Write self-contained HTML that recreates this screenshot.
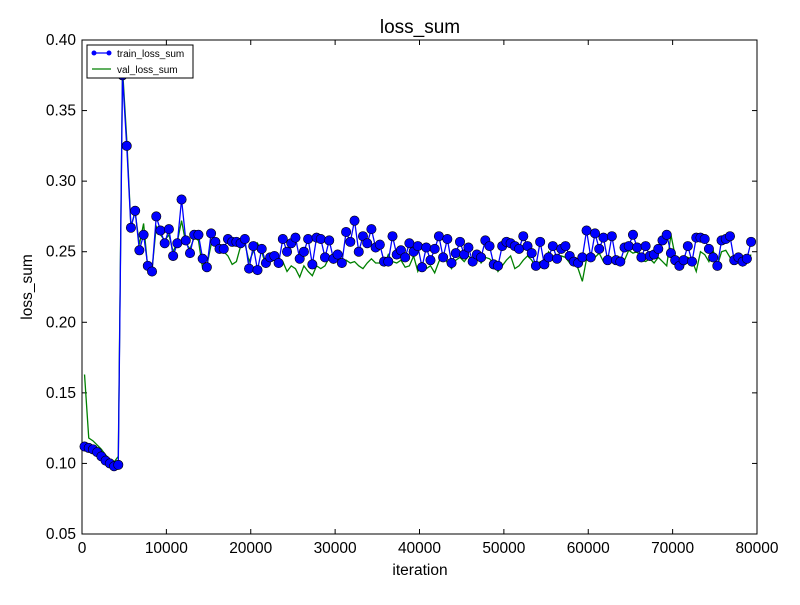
<!DOCTYPE html>
<html><head><meta charset="utf-8"><style>
body{margin:0;background:#fff;}
svg text{font-family:"Liberation Sans",sans-serif;}
</style></head><body>
<svg id="chart" width="800" height="600" xmlns="http://www.w3.org/2000/svg">
<rect width="800" height="600" fill="#fff"/>
<g id="plot"></g>
</svg>
<script>
const xTicks=[0,10000,20000,30000,40000,50000,60000,70000,80000];
const xTickLabels=["0","10000","20000","30000","40000","50000","60000","70000","80000"];
const yTicks=[0.05,0.10,0.15,0.20,0.25,0.30,0.35,0.40];
const yTickLabels=["0.05","0.10","0.15","0.20","0.25","0.30","0.35","0.40"];
const iterStep=500;
const iterStart=300;
const trainLoss=[0.112,0.111,0.110,0.108,0.105,0.102,0.100,0.098,0.099,0.375,
0.325,0.267,0.279,0.251,0.262,0.240,0.236,0.275,0.265,0.256,
0.266,0.247,0.256,0.287,0.258,0.249,0.262,0.262,0.245,0.239,
0.263,0.257,0.252,0.252,0.259,0.257,0.257,0.256,0.259,0.238,
0.254,0.237,0.252,0.242,0.246,0.247,0.242,0.259,0.250,0.256,
0.260,0.245,0.250,0.259,0.241,0.260,0.259,0.246,0.258,0.245,
0.248,0.242,0.264,0.257,0.272,0.250,0.261,0.256,0.266,0.253,
0.255,0.243,0.243,0.261,0.248,0.251,0.246,0.256,0.250,0.254,
0.239,0.253,0.244,0.252,0.261,0.246,0.259,0.242,0.249,0.257,
0.248,0.253,0.243,0.248,0.246,0.258,0.254,0.241,0.240,0.254,
0.257,0.256,0.254,0.252,0.261,0.254,0.249,0.240,0.257,0.241,
0.246,0.254,0.245,0.252,0.254,0.247,0.243,0.242,0.246,0.265,
0.246,0.263,0.252,0.260,0.244,0.261,0.244,0.243,0.253,0.254,
0.262,0.253,0.246,0.254,0.247,0.248,0.252,0.258,0.262,0.249,
0.244,0.240,0.244,0.254,0.243,0.260,0.260,0.259,0.252,0.246,
0.240,0.258,0.259,0.261,0.244,0.246,0.243,0.245,0.257];
const valLoss=[0.163,0.118,0.116,0.113,0.110,0.106,0.103,0.101,0.105,0.380,
0.330,0.268,0.278,0.255,0.270,0.238,0.237,0.268,0.262,0.258,
0.262,0.250,0.257,0.272,0.256,0.252,0.260,0.258,0.238,0.240,
0.255,0.256,0.251,0.250,0.247,0.241,0.243,0.254,0.256,0.243,
0.250,0.256,0.250,0.240,0.243,0.244,0.241,0.243,0.236,0.240,
0.238,0.232,0.240,0.236,0.233,0.240,0.238,0.240,0.246,0.242,
0.245,0.240,0.244,0.242,0.243,0.240,0.238,0.242,0.245,0.242,
0.242,0.240,0.248,0.243,0.242,0.244,0.239,0.240,0.247,0.236,
0.242,0.238,0.240,0.235,0.243,0.248,0.242,0.238,0.244,0.246,
0.243,0.247,0.244,0.249,0.242,0.246,0.245,0.242,0.236,0.240,
0.244,0.247,0.238,0.240,0.244,0.247,0.244,0.239,0.243,0.242,
0.250,0.246,0.243,0.247,0.246,0.242,0.244,0.238,0.229,0.245,
0.249,0.246,0.249,0.243,0.245,0.243,0.242,0.246,0.244,0.251,
0.249,0.250,0.244,0.243,0.245,0.242,0.246,0.243,0.240,0.262,
0.247,0.244,0.240,0.246,0.244,0.236,0.250,0.248,0.243,0.251,
0.240,0.250,0.251,0.246,0.242,0.244,0.240,0.243,0.248];
const L=82,R=757,T=40,B=534;
const xMin=0,xMax=80000,yMin=0.05,yMax=0.40;
function sx(v){return L+(v-xMin)/(xMax-xMin)*(R-L);}
function sy(v){return B-(v-yMin)/(yMax-yMin)*(B-T);}
function it(i){return iterStart+i*iterStep;}
const NS="http://www.w3.org/2000/svg";
const g=document.getElementById('plot');
function mk(tag,attrs,parent){const e=document.createElementNS(NS,tag);for(const k in attrs)e.setAttribute(k,attrs[k]);(parent||g).appendChild(e);return e;}
const frame=mk('rect',{x:L,y:T,width:R-L,height:B-T,fill:'#fff',stroke:'#000','stroke-width':1});


xTicks.forEach((v,i)=>{const x=sx(v);
mk('line',{x1:x,y1:B,x2:x,y2:B-5,stroke:'#000'});mk('line',{x1:x,y1:T,x2:x,y2:T+5,stroke:'#000'});
const t=mk('text',{x:x,y:B+19,'text-anchor':'middle','font-size':15.5});t.textContent=xTickLabels[i];

});
yTicks.forEach((v,i)=>{const y=sy(v);
mk('line',{x1:L,y1:y,x2:L+5,y2:y,stroke:'#000'});mk('line',{x1:R,y1:y,x2:R-5,y2:y,stroke:'#000'});
const t=mk('text',{x:L-6,y:y+5,'text-anchor':'end','font-size':15.5});t.textContent=yTickLabels[i];

});
const vp=valLoss.map((v,i)=>sx(it(i))+','+sy(v)).join(' ');
const tp=trainLoss.map((v,i)=>sx(it(i))+','+sy(v)).join(' ');
const vl=mk('polyline',{points:vp,fill:'none',stroke:'#008000','stroke-width':1.3});


const tl=mk('polyline',{points:tp,fill:'none',stroke:'#0000ff','stroke-width':1.3});


trainLoss.forEach((v,i)=>{const c=mk('circle',{cx:sx(it(i)),cy:sy(v),r:4.7,fill:'#0000ff',stroke:'#000','stroke-width':0.6});

});
const ti=mk('text',{x:420,y:33,'text-anchor':'middle','font-size':19});ti.textContent='loss_sum';


const xt=mk('text',{x:420,y:575,'text-anchor':'middle','font-size':15.5});xt.textContent='iteration';


const yt=mk('text',{x:32,y:287,'text-anchor':'middle','font-size':15.5,transform:'rotate(-90 32 287)'});yt.textContent='loss_sum';


const lg=mk('g',{});


mk('rect',{x:87,y:45,width:106,height:33,fill:'#fff',stroke:'#000','stroke-width':1},lg);
mk('line',{x1:92,y1:53,x2:111,y2:53,stroke:'#0000ff','stroke-width':1.3},lg);
mk('circle',{cx:94,cy:53,r:2.5,fill:'#0000ff'},lg);mk('circle',{cx:109,cy:53,r:2.5,fill:'#0000ff'},lg);
mk('line',{x1:92,y1:69,x2:111,y2:69,stroke:'#008000','stroke-width':1.3},lg);
const l1=mk('text',{x:117,y:57,'font-size':10},lg);l1.textContent='train_loss_sum';


const l2=mk('text',{x:117,y:73,'font-size':10},lg);l2.textContent='val_loss_sum';


</script>
</body></html>
